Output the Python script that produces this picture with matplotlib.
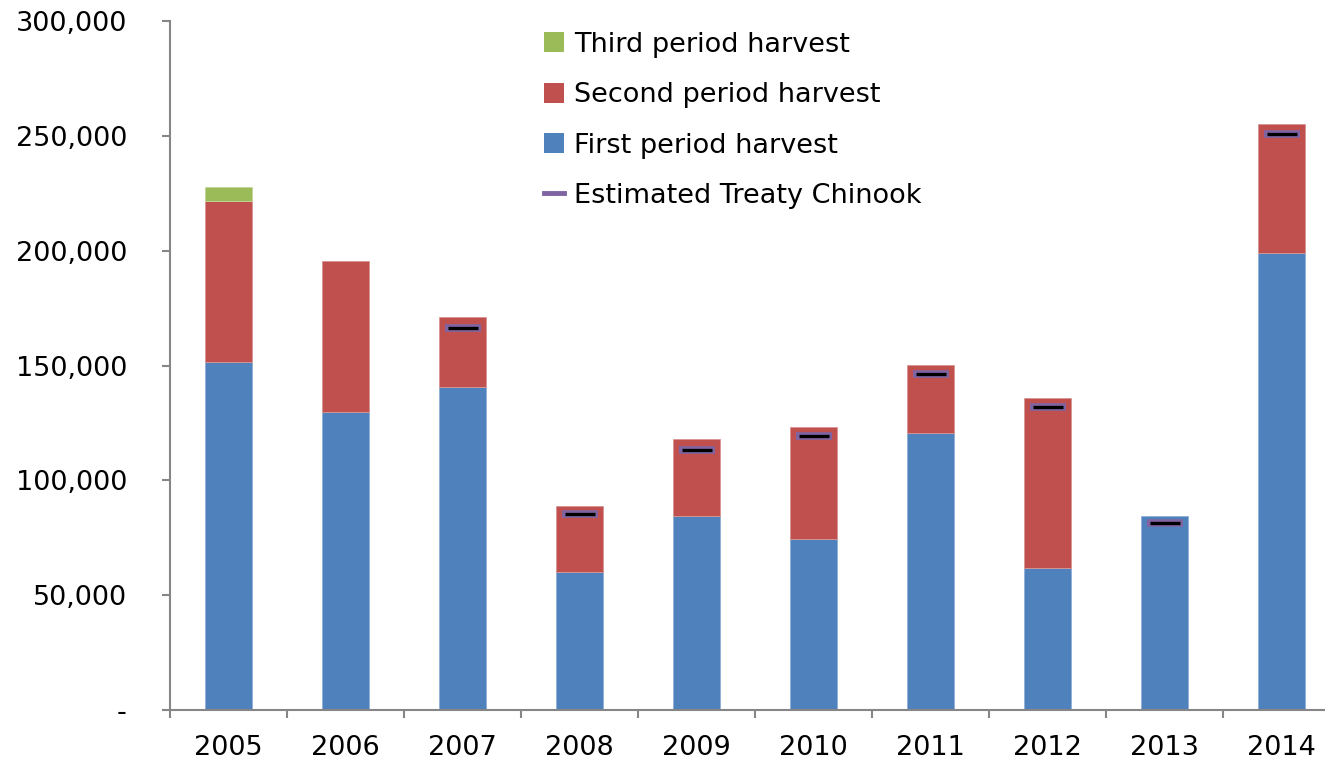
import matplotlib
matplotlib.use("Agg")
import matplotlib.pyplot as plt
import numpy as np
from matplotlib.lines import Line2D
from matplotlib.patches import Patch
from matplotlib.ticker import FuncFormatter

years = ["2005", "2006", "2007", "2008", "2009", "2010", "2011", "2012", "2013", "2014"]
first_period = [151500, 129700, 140600, 60100, 84500, 74400, 120600, 61800, 84500, 199000]
second_period = [70100, 65800, 30500, 28700, 33500, 48800, 29600, 74000, 0, 56100]
third_period = [6100, 0, 0, 0, 0, 0, 0, 0, 0, 0]
treaty_chinook = [np.nan, np.nan, 166300, 85300, 113200, 119300, 146300, 131900, 81400, 250800]

BLUE = "#4f81bd"
RED = "#c0504d"
GREEN = "#9bbb59"
PURPLE = "#8064a2"
AXIS = "#868686"
FS = 19.5

plt.rcParams["font.family"] = ["DejaVu Sans"]

fig = plt.figure(figsize=(13.25, 7.61), dpi=100)
ax = fig.add_axes([170 / 1325, 51 / 761, 1170 / 1325, 689 / 761])

x = np.arange(len(years))
first = np.array(first_period)
second = np.array(second_period)
third = np.array(third_period)
w = 0.4

# only draw non-empty segments so zero-height bars leave no edge line
m = second > 0
n = third > 0
ax.bar(x, first, width=w, color=BLUE, edgecolor="#8fb0d8", linewidth=0.6)
ax.bar(x[m], second[m], width=w, bottom=first[m], color=RED, edgecolor="#d99694", linewidth=0.6)
ax.bar(x[n], third[n], width=w, bottom=(first + second)[n], color=GREEN,
       edgecolor="#c3d69b", linewidth=0.6)

ax.plot(x, treaty_chinook, linestyle="none", marker="_", markersize=26,
        markeredgewidth=5.5, color=PURPLE)
ax.plot(x, treaty_chinook, linestyle="none", marker="_", markersize=22,
        markeredgewidth=2.4, color="black")

ax.set_xlim(-0.5, len(years) - 0.5)
ax.set_ylim(0, 300000)
ax.set_yticks(np.arange(0, 300001, 50000))
ax.yaxis.set_major_formatter(FuncFormatter(lambda v, p: "-" if v == 0 else f"{v:,.0f}"))
ax.set_xticks(x)
ax.set_xticklabels(years)
ax.set_xticks(np.arange(-0.5, len(years), 1), minor=True)

for s in ["top", "right"]:
    ax.spines[s].set_visible(False)
for s in ["left", "bottom"]:
    ax.spines[s].set_color(AXIS)
    ax.spines[s].set_linewidth(1.5)

ax.tick_params(axis="x", which="major", length=0, pad=18, labelsize=FS)
ax.tick_params(axis="x", which="minor", length=6, width=1.5, color=AXIS, direction="out")
ax.tick_params(axis="y", length=6, width=1.5, color=AXIS, direction="out", pad=25, labelsize=FS)

handles = [
    Patch(facecolor=GREEN, label="Third period harvest"),
    Patch(facecolor=RED, label="Second period harvest"),
    Patch(facecolor=BLUE, label="First period harvest"),
    Line2D([0], [0], color=PURPLE, linewidth=3.5, label="Estimated Treaty Chinook"),
]
fig.legend(handles=handles, loc="upper left", bbox_to_anchor=(533 / 1325, 1 - 21 / 761),
           frameon=False, fontsize=FS, handlelength=0.75, handleheight=0.75,
           handletextpad=0.35, labelspacing=0.9, borderaxespad=0)

fig.savefig("out.png", dpi=100)
